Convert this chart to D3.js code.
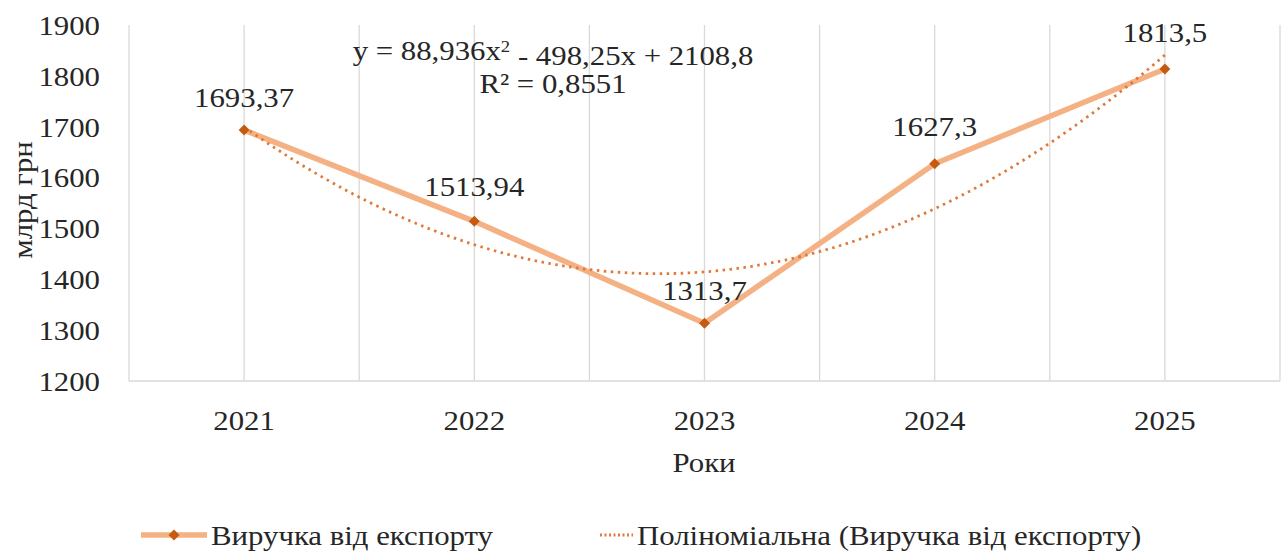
<!DOCTYPE html>
<html><head><meta charset="utf-8">
<script src="https://cdn.jsdelivr.net/npm/d3@7"></script>
<style>
body{margin:0;background:#fff;}
text{font-family:"Liberation Serif","Times New Roman",serif;fill:#262626;}
</style></head>
<body><svg id="c" width="1282" height="551"></svg>
<script>
const years = ["2021","2022","2023","2024","2025"];
const revenue = [1693.37, 1513.94, 1313.7, 1627.3, 1813.5];
const labels = ["1693,37","1513,94","1313,7","1627,3","1813,5"];
const yTicks = [1200,1300,1400,1500,1600,1700,1800,1900];
const trendCoef = [88.936, -498.25, 2108.8]; // a, b, c for x = 1..5
const seriesName = "Виручка від експорту";
const trendName = "Поліноміальна (Виручка від експорту)";

const FS = 28, SX = 1.1;
const svg = d3.select("#c");
const L = 129, R = 1280, T = 25, B = 381;
const y = d3.scaleLinear().domain([1200,1900]).range([B,T]);
const xb = d3.scaleBand().domain(years).range([L,R]);
const xc = d => xb(d) + xb.bandwidth()/2;
const xNum = d3.scaleLinear().domain([0.5,5.5]).range([L,R]);

function label(parent, x, yy, str, anchor, rot) {
  const g = parent.append("g").attr("transform", `translate(${x},${yy})` + (rot ? ` rotate(${rot})` : "") + ` scale(${SX},1)`);
  return g.append("text").attr("dy","0.35em").attr("text-anchor",anchor).attr("font-size",FS).text(str);
}

// vertical gridlines at band edges and centers
const gx = [];
years.forEach(yr => { gx.push(xb(yr)); gx.push(xc(yr)); });
gx.push(R);
svg.append("g").selectAll("line").data(gx).join("line")
  .attr("x1",d=>d).attr("x2",d=>d).attr("y1",T).attr("y2",B)
  .attr("stroke","#d9d9d9").attr("stroke-width",1.3);
svg.append("line").attr("x1",L).attr("x2",R).attr("y1",B).attr("y2",B)
  .attr("stroke","#d9d9d9").attr("stroke-width",1.5);

// y tick labels
const gyt = svg.append("g");
yTicks.forEach(t => label(gyt, 100, y(t), t, "end"));
// x tick labels
const gxt = svg.append("g");
years.forEach(yr => label(gxt, xc(yr), 420, yr, "middle"));

// axis titles
label(svg, 704, 462, "Роки", "middle");
label(svg, 22, 200, "млрд грн", "middle", -90);

// series line
const line = d3.line().x((d,i)=>xc(years[i])).y(d=>y(d));
svg.append("path").datum(revenue).attr("d",line)
  .attr("fill","none").attr("stroke","#f4b183").attr("stroke-width",5.5)
  .attr("stroke-linejoin","round").attr("stroke-linecap","round");

// trendline from displayed equation
const tPts = d3.range(1, 5.0001, 0.05).map(t => [t, trendCoef[0]*t*t + trendCoef[1]*t + trendCoef[2]]);
svg.append("path").datum(tPts)
  .attr("d", d3.line().x(d=>xNum(d[0])).y(d=>y(d[1])))
  .attr("fill","none").attr("stroke","#e0793a").attr("stroke-width",2.8)
  .attr("stroke-dasharray","2.5 4.5");

// markers (square rotated 45deg)
const diamond = d3.symbol().type(d3.symbolSquare).size(60);
svg.append("g").selectAll("path").data(revenue).join("path")
  .attr("d",diamond)
  .attr("transform",(d,i)=>`translate(${xc(years[i])},${y(d)}) rotate(45)`)
  .attr("fill","#c55a11");

// data labels
const lblDy = [-33, -35, -33, -37, -37];
const gl = svg.append("g");
revenue.forEach((d,i) => label(gl, xc(years[i]), y(d)+lblDy[i], labels[i], "middle"));

// equation
const eqG = svg.append("g").attr("transform",`translate(553,50) scale(${SX},1)`);
const eq = eqG.append("text").attr("dy","0.35em").attr("text-anchor","middle").attr("font-size",FS);
eq.append("tspan").text("y = 88,936x");
eq.append("tspan").attr("dy","-0.45em").attr("font-size",17).text("2");
eq.append("tspan").attr("dy","0.45em").text(" - 498,25x + 2108,8");
label(svg, 553, 83, "R² = 0,8551", "middle");

// legend
const ly = 535;
svg.append("line").attr("x1",141).attr("x2",207).attr("y1",ly).attr("y2",ly)
  .attr("stroke","#f4b183").attr("stroke-width",5.5);
svg.append("path").attr("d",diamond).attr("transform",`translate(174,${ly}) rotate(45)`).attr("fill","#c55a11");
label(svg, 211, ly, seriesName, "start");
svg.append("line").attr("x1",600).attr("x2",633).attr("y1",ly).attr("y2",ly)
  .attr("stroke","#e0793a").attr("stroke-width",2.8).attr("stroke-dasharray","2 2.5");
label(svg, 637, ly, trendName, "start");
</script></body></html>
